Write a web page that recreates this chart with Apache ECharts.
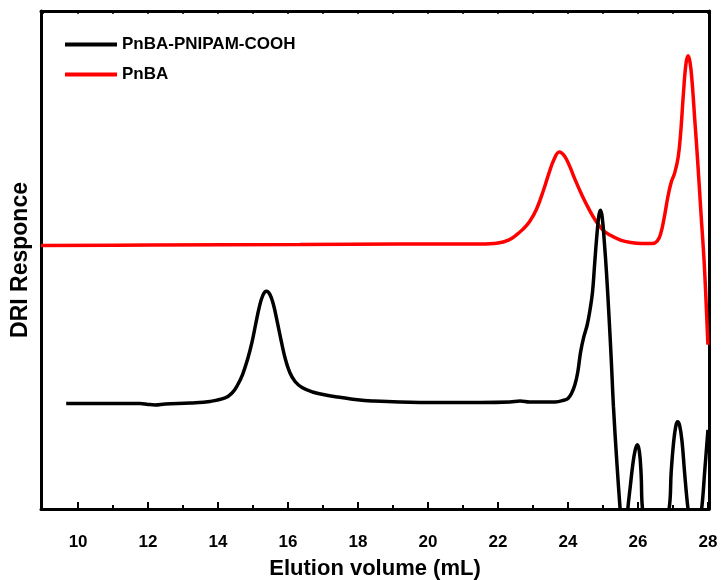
<!DOCTYPE html>
<html>
<head>
<meta charset="utf-8">
<script src="https://cdn.jsdelivr.net/npm/echarts@6/dist/echarts.min.js"></script>
<style>html,body{margin:0;padding:0;background:#fff}#c{width:722px;height:580px}</style>
</head>
<body>
<div id="c"></div>
<script>
// Tick labels / positions (mL)
const majorTicks = [10, 12, 14, 16, 18, 20, 22, 24, 26, 28];
const minorTicks = [11, 13, 15, 17, 19, 21, 23, 25, 27];
const topTicks = [9, 10, 11, 12, 13, 14, 15, 16, 17, 18, 19, 20, 21, 22, 23, 24, 25, 26, 27, 28];

// PnBA-PNIPAM-COOH (black)
const blackX = [9.66, 10.63, 11.77, 12.0, 12.2, 12.49, 13.2, 13.77, 14.2, 14.4, 14.55, 14.7, 14.85, 14.97, 15.08, 15.18, 15.28, 15.38, 15.48, 15.58, 15.68, 15.8, 15.92, 16.05, 16.2, 16.4, 16.7, 17.0, 17.4, 17.8, 18.4, 19.77, 21.49, 22.34, 22.63, 22.91, 23.63, 23.91, 24.0, 24.1, 24.2, 24.28, 24.36, 24.45, 24.55, 24.63, 24.7, 24.76, 24.82, 24.88, 24.93, 24.98, 25.04, 25.1, 25.17, 25.24, 25.3, 25.4, 25.49, 25.6, 25.71, 25.78, 25.85, 25.92, 25.98, 26.04, 26.09, 26.13, 26.5, 26.89, 26.95, 27.02, 27.08, 27.13, 27.19, 27.26, 27.33, 27.43, 27.62, 27.82, 27.91, 28.0];
const blackY = [21.2, 21.2, 21.2, 21.0, 20.9, 21.1, 21.3, 21.6, 22.3, 23.3, 24.8, 27.0, 30.2, 33.5, 37.3, 40.6, 42.9, 43.7, 43.1, 41.1, 38.0, 33.9, 30.2, 27.4, 25.6, 24.4, 23.5, 23.0, 22.5, 22.1, 21.7, 21.4, 21.4, 21.5, 21.7, 21.5, 21.5, 21.9, 22.2, 23.2, 25.0, 27.5, 31.5, 34.5, 37.0, 40.0, 43.5, 49.0, 54.5, 58.8, 60.0, 58.5, 53.5, 47.5, 39.0, 29.5, 20.5, 9.0, 0, -10, 0, 4.5, 8.8, 11.8, 12.9, 11.6, 7.0, 0, -15, 0, 7.5, 13.5, 16.6, 17.5, 16.8, 13.5, 7.5, 0, -10, 0, 7.8, 15.9];

// PnBA (red)
const redX = [8.94, 12.06, 16.34, 19.2, 21.49, 22.0, 22.3, 22.5, 22.7, 22.9, 23.1, 23.3, 23.45, 23.6, 23.75, 23.9, 24.05, 24.2, 24.4, 24.6, 24.8, 25.0, 25.2, 25.5, 25.8, 26.1, 26.4, 26.55, 26.65, 26.75, 26.85, 26.95, 27.05, 27.15, 27.22, 27.3, 27.37, 27.43, 27.49, 27.55, 27.62, 27.7, 27.8, 27.9, 28.0];
const redY = [52.9, 53.0, 53.1, 53.2, 53.2, 53.4, 54.0, 54.9, 56.1, 57.7, 60.2, 64.0, 67.3, 70.2, 71.7, 70.9, 68.8, 66.2, 63.0, 60.2, 57.8, 56.0, 55.0, 54.0, 53.5, 53.3, 53.3, 53.8, 55.3, 58.5, 62.5, 65.6, 67.5, 70.7, 75.5, 83.5, 89.3, 91.0, 89.6, 85.5, 78.5, 70.5, 59.5, 48.5, 33.0];

const zip = (xs, ys) => xs.map((x, i) => [x, ys[i]]);
const FONT = 'Liberation Sans, Arial, sans-serif';
const X_MIN = 8.94, X_MAX = 28.03;

const chart = echarts.init(document.getElementById('c'), null, { renderer: 'canvas' });
chart.setOption({
  animation: false,
  backgroundColor: '#fff',
  grid: { left: 41, right: 13, top: 11, bottom: 71, outerBoundsMode: 'none', containLabel: false },
  legend: {
    left: 65, top: 36, orient: 'vertical', padding: 0,
    icon: 'rect', itemWidth: 52, itemHeight: 4, itemGap: 13,
    data: ['PnBA-PNIPAM-COOH', 'PnBA'],
    textStyle: { color: '#000', fontFamily: FONT, fontWeight: 'bold', fontSize: 17 }
  },
  xAxis: [
    {
      type: 'value', position: 'bottom', min: X_MIN, max: X_MAX,
      name: 'Elution volume (mL)', nameLocation: 'middle', nameGap: 49,
      nameTextStyle: { color: '#000', fontFamily: FONT, fontWeight: 'bold', fontSize: 22 },
      axisLine: { show: true, onZero: false, lineStyle: { color: '#000', width: 3 } },
      axisTick: { show: true, inside: true, length: 7, lineStyle: { color: '#000', width: 2 }, customValues: majorTicks },
      axisLabel: { show: true, color: '#000', fontFamily: FONT, fontWeight: 'bold', fontSize: 17, margin: 25, customValues: majorTicks },
      splitLine: { show: false }
    },
    {
      type: 'value', position: 'bottom', min: X_MIN, max: X_MAX,
      axisLine: { show: false },
      axisTick: { show: true, inside: true, length: 4, lineStyle: { color: '#000', width: 2 }, customValues: minorTicks },
      axisLabel: { show: false },
      splitLine: { show: false }
    },
    {
      type: 'value', position: 'top', min: X_MIN, max: X_MAX,
      axisLine: { show: true, onZero: false, lineStyle: { color: '#000', width: 3 } },
      axisTick: { show: true, inside: true, length: 3, lineStyle: { color: '#000', width: 1.5 }, customValues: topTicks },
      axisLabel: { show: false },
      splitLine: { show: false }
    }
  ],
  yAxis: [
    {
      type: 'value', position: 'left', min: 0, max: 100,
      name: 'DRI Responce', nameLocation: 'middle', nameGap: 9, nameRotate: 90,
      nameTextStyle: { color: '#000', fontFamily: FONT, fontWeight: 'bold', fontSize: 23 },
      axisLine: { show: true, onZero: false, lineStyle: { color: '#000', width: 3 } },
      axisTick: { show: false }, axisLabel: { show: false }, splitLine: { show: false }
    },
    {
      type: 'value', position: 'right', min: 0, max: 100,
      axisLine: { show: true, onZero: false, lineStyle: { color: '#000', width: 3 } },
      axisTick: { show: false }, axisLabel: { show: false }, splitLine: { show: false }
    }
  ],
  series: [
    {
      name: 'PnBA', type: 'line', xAxisIndex: 0, yAxisIndex: 0,
      data: zip(redX, redY), showSymbol: false, symbol: 'none', smooth: 0.4,
      lineStyle: { color: '#ff0000', width: 3.5 }, itemStyle: { color: '#ff0000' }, clip: true, z: 2
    },
    {
      name: 'PnBA-PNIPAM-COOH', type: 'line', xAxisIndex: 0, yAxisIndex: 0,
      data: zip(blackX, blackY), showSymbol: false, symbol: 'none', smooth: 0.4,
      lineStyle: { color: '#000', width: 3.5 }, itemStyle: { color: '#000' }, clip: true, z: 3
    }
  ]
});
</script>
</body>
</html>
